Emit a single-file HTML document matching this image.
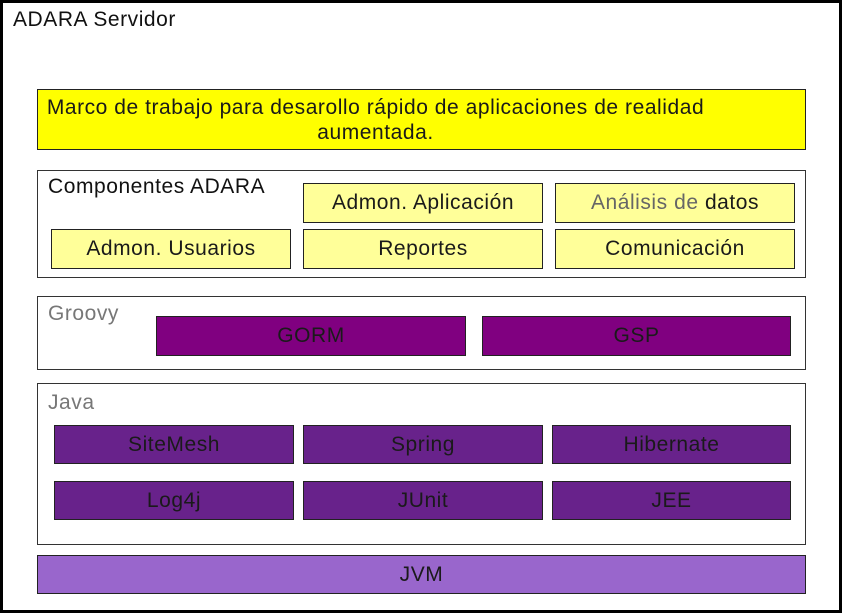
<!DOCTYPE html>
<html><head><meta charset="utf-8"><style>
body{margin:0;width:843px;height:614px;background:#fff;position:relative;overflow:hidden;font-family:"Liberation Sans",sans-serif;letter-spacing:0.55px}
div{position:absolute;box-sizing:border-box}
.b{border:1.5px solid #222;display:flex;align-items:center;justify-content:center;font-size:21px;color:#1a1a1a;white-space:nowrap}
.y{background:#ffff99}
.p{background:#800080}
.j{background:#68228b}
.c{border:1.5px solid #333;background:#fff}
.l{font-size:21px;white-space:nowrap}
</style></head><body>
<div style="left:0;top:0;width:842px;height:613px;border:3px solid #000"></div>
<div class="l" style="left:13px;top:8px;color:#111">ADARA Servidor</div>
<div class="b" style="left:37px;top:89px;width:769px;height:61px;background:#ffff00;text-align:center;line-height:25px;white-space:normal;padding-right:92px">Marco de trabajo para desarollo rápido de aplicaciones de realidad<br>aumentada.</div>
<div class="c" style="left:37px;top:170px;width:769px;height:108px"></div>
<div class="l" style="left:48px;top:175px;color:#111">Componentes ADARA</div>
<div class="b y" style="left:303px;top:183px;width:240px;height:40px">Admon. Aplicación</div>
<div class="b y" style="left:555px;top:183px;width:240px;height:40px"><span style="color:#666">Análisis de&nbsp;</span>datos</div>
<div class="b y" style="left:51px;top:229px;width:240px;height:40px">Admon. Usuarios</div>
<div class="b y" style="left:303px;top:229px;width:240px;height:40px">Reportes</div>
<div class="b y" style="left:555px;top:229px;width:240px;height:40px">Comunicación</div>
<div class="c" style="left:37px;top:296px;width:769px;height:74px"></div>
<div class="l" style="left:48px;top:302px;color:#777">Groovy</div>
<div class="b p" style="left:156px;top:316px;width:310px;height:40px">GORM</div>
<div class="b p" style="left:482px;top:316px;width:309px;height:40px">GSP</div>
<div class="c" style="left:37px;top:383px;width:769px;height:162px"></div>
<div class="l" style="left:48px;top:391px;color:#777">Java</div>
<div class="b j" style="left:54px;top:425px;width:240px;height:39px">SiteMesh</div>
<div class="b j" style="left:303px;top:425px;width:240px;height:39px">Spring</div>
<div class="b j" style="left:552px;top:425px;width:239px;height:39px">Hibernate</div>
<div class="b j" style="left:54px;top:481px;width:240px;height:39px">Log4j</div>
<div class="b j" style="left:303px;top:481px;width:240px;height:39px">JUnit</div>
<div class="b j" style="left:552px;top:481px;width:239px;height:39px">JEE</div>
<div class="b" style="left:37px;top:555px;width:769px;height:39px;background:#9966cc">JVM</div>
</body></html>
